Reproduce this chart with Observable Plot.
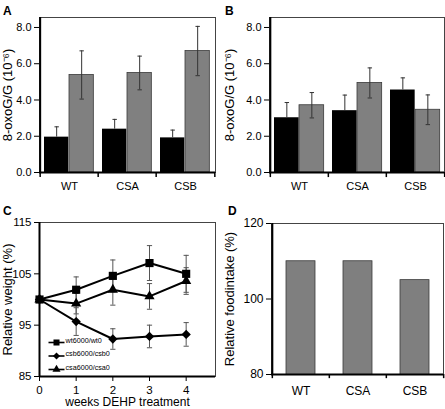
<!DOCTYPE html>
<html><head><meta charset="utf-8">
<script src="https://cdn.jsdelivr.net/npm/d3@7"></script>
<script src="https://cdn.jsdelivr.net/npm/@observablehq/plot@0.6"></script>
<style>
html,body{margin:0;padding:0;background:#fff;}
#fig{position:relative;width:445px;height:409px;overflow:hidden;font-family:"Liberation Sans",Arial,sans-serif;background:#fff;}
#fig .panel{position:absolute;}
.letter{position:absolute;font-weight:bold;font-size:12px;line-height:12px;color:#000;}
</style></head>
<body><div id="fig"></div>
<script>
// ---- data ----
const categories = ["WT", "CSA", "CSB"];
const aBlack = [1.95, 2.39, 1.91];
const aBlackErr = [0.57, 0.54, 0.43];
const aGrey = [5.38, 5.49, 6.70];
const aGreyErr = [1.33, 0.93, 1.36];
const bBlack = [3.02, 3.41, 4.55];
const bBlackErr = [0.84, 0.86, 0.67];
const bGrey = [3.71, 4.94, 3.46];
const bGreyErr = [0.70, 0.83, 0.82];
const oxoTicks = [0, 2, 4, 6, 8];
const oxoTitle = "8-oxoG/G (10⁻⁶)";

const weeks = [0, 1, 2, 3, 4];
const seriesNames = ["wt6000/wt0", "csb6000/csb0", "csa6000/csa0"];
const wtWeight = [100, 101.9, 104.6, 107.1, 105.0];
const wtErr = [0, 2.5, 3.1, 3.4, 3.6];
const csbWeight = [100, 95.7, 92.3, 92.8, 93.2];
const csbErr = [0, 2.7, 2.0, 2.2, 2.3];
const csaWeight = [100, 99.2, 101.9, 100.6, 103.6];
const csaErr = [0, 2.0, 3.0, 2.5, 2.6];
const weightTicks = [85, 95, 105, 115];
const weightTitle = "Relative weight (%)";
const weeksTitle = "weeks DEHP treatment";

const foodIntake = [110, 110, 105];
const foodTicks = [80, 100, 120];
const foodTitle = "Relative foodintake (%)";

// ---- helpers ----
const FONT = "'Liberation Sans', Arial, Helvetica, sans-serif";
function hline(hw) { return {draw(ctx) { ctx.moveTo(-hw, 0); ctx.lineTo(hw, 0); }}; }
const baseStyle = (fs) => ({fontFamily: FONT, fontSize: fs, color: "#000", background: "transparent", overflow: "visible"});
const yTitle = (t, marginLeft) => Plot.text([t], {text: d => d, frameAnchor: "left", textAnchor: "middle", rotate: -90, lineAnchor: "top", dx: 2 - marginLeft, fontSize: 13});

function oxoPanel(blackV, blackE, greyV, greyE, {width, marginLeft, marginRight}) {
  const frameW = width - marginLeft - marginRight;
  const step = frameW / categories.length;
  const blk = categories.map((c, i) => ({c, v: blackV[i], lo: blackV[i], hi: blackV[i] + blackE[i]}));
  const gry = categories.map((c, i) => ({c, v: greyV[i], lo: greyV[i] - greyE[i], hi: greyV[i] + greyE[i]}));
  const dxB = 16.5 - step / 2, dxG = 41.5 - step / 2;
  const cap = {symbol: hline(2.2), stroke: "#333", fill: "none", strokeWidth: 1};
  return Plot.plot({
    width, height: 200, marginLeft, marginRight, marginTop: 17, marginBottom: 28,
    style: baseStyle("11px"),
    x: {domain: categories, padding: 0, tickSize: 0, tickPadding: 10, label: null},
    y: {domain: [0, 8.55], ticks: oxoTicks, tickFormat: d => d.toFixed(1), tickSize: 5, tickPadding: 3, label: null},
    marks: [
      Plot.barY(blk, {x: "c", y: "v", fill: "#000", insetLeft: 4, insetRight: step - 29}),
      Plot.barY(gry, {x: "c", y: "v", fill: "#808080", stroke: "#3a3a3a", strokeWidth: 0.8, insetLeft: 29, insetRight: step - 54}),
      Plot.ruleX(blk, {x: "c", y1: "lo", y2: "hi", dx: dxB, stroke: "#333"}),
      Plot.dot(blk, {x: "c", y: "hi", dx: dxB, ...cap}),
      Plot.ruleX(gry, {x: "c", y1: "lo", y2: "hi", dx: dxG, stroke: "#333"}),
      Plot.dot(gry, {x: "c", y: "hi", dx: dxG, ...cap}),
      Plot.dot(gry, {x: "c", y: "lo", dx: dxG, ...cap}),
      Plot.frame({stroke: "#444"}),
      Plot.ruleY([0], {strokeWidth: 2}),
      Plot.ruleX([categories[0]], {x: d => d, dx: -step / 2, strokeWidth: 2}),
      Plot.ruleX(categories, {x: d => d, dx: -step / 2, y1: 0, y2: -0.28, strokeWidth: 1.5}),
      Plot.ruleX([categories[categories.length - 1]], {x: d => d, dx: step / 2, y1: 0, y2: -0.28, strokeWidth: 1.5}),
      yTitle(oxoTitle, marginLeft)
    ]
  });
}

function weightPanel() {
  const marginLeft = 39;
  const rows = (vals, errs) => weeks.map((w, i) => ({w, v: vals[i], e: errs[i], lo: vals[i] - errs[i], hi: vals[i] + errs[i]}));
  const wt = rows(wtWeight, wtErr), csb = rows(csbWeight, csbErr), csa = rows(csaWeight, csaErr);
  const withErr = [...csb, ...csa, ...wt].filter(d => d.e > 0);
  const cap = {symbol: hline(2.6), stroke: "#555", fill: "none", strokeWidth: 1};
  const legendSymbols = ["square", "diamond2", "triangle"];
  const legendR = [3.4, 3.2, 3.0];
  const legend = seriesNames.flatMap((name, i) => {
    const base = {frameAnchor: "bottom-left", dy: -34 + 13.5 * i};
    return [
      Plot.dot([name], {...base, dx: 17, symbol: hline(8), stroke: "#000", strokeWidth: 1.6, fill: "none"}),
      Plot.dot([name], {...base, dx: 17, symbol: legendSymbols[i], fill: "#000", r: legendR[i]}),
      Plot.text([name], {...base, dx: 26, text: d => d, textAnchor: "start", fontSize: 7.2})
    ];
  });
  return Plot.plot({
    width: 222, height: 209, marginLeft, marginRight: 7, marginTop: 22, marginBottom: 33,
    style: baseStyle("11.5px"),
    x: {domain: [0, 4.8], ticks: weeks, tickFormat: d => String(d), tickSize: 5, tickPadding: 4, label: null, fontSize: 11},
    y: {domain: [85, 115], ticks: weightTicks, tickFormat: d => String(d), tickSize: 5, tickPadding: 3, label: null},
    marks: [
      Plot.ruleX(withErr, {x: "w", y1: "lo", y2: "hi", stroke: "#555"}),
      Plot.dot(withErr, {x: "w", y: "lo", ...cap}),
      Plot.dot(withErr, {x: "w", y: "hi", ...cap}),
      Plot.line(csb, {x: "w", y: "v", stroke: "#000", strokeWidth: 2}),
      Plot.line(csa, {x: "w", y: "v", stroke: "#000", strokeWidth: 2}),
      Plot.line(wt, {x: "w", y: "v", stroke: "#000", strokeWidth: 2}),
      Plot.dot(csb, {x: "w", y: "v", symbol: "diamond2", fill: "#000", r: 4.2}),
      Plot.dot(csa, {x: "w", y: "v", symbol: "triangle", fill: "#000", r: 3.8}),
      Plot.dot(wt, {x: "w", y: "v", symbol: "square", fill: "#000", r: 4.6}),
      Plot.frame({stroke: "#444"}),
      Plot.ruleY([weightTicks[0]], {strokeWidth: 2}),
      Plot.ruleX([weeks[0]], {strokeWidth: 2}),
      ...legend,
      yTitle(weightTitle, marginLeft),
      Plot.text([weeksTitle], {text: d => d, frameAnchor: "bottom", textAnchor: "middle", dy: 29.5, fontSize: 12})
    ]
  });
}

function foodPanel() {
  const width = 223, marginLeft = 49, marginRight = 2;
  const step = (width - marginLeft - marginRight) / categories.length;
  const rows = categories.map((c, i) => ({c, v: foodIntake[i]}));
  const y0 = foodTicks[0];
  return Plot.plot({
    width, height: 209, marginLeft, marginRight, marginTop: 23, marginBottom: 35,
    style: baseStyle("12px"),
    x: {domain: categories, paddingInner: 0.5, paddingOuter: 0.25, tickSize: 0, tickPadding: 12, label: null},
    y: {domain: [80, 120], ticks: foodTicks, tickFormat: d => String(d), tickSize: 5, tickPadding: 3, label: null},
    marks: [
      Plot.barY(rows, {x: "c", y: "v", fill: "#7f7f7f", stroke: "#3a3a3a", strokeWidth: 0.8, clip: true}),
      Plot.frame({stroke: "#444"}),
      Plot.ruleY([y0], {strokeWidth: 2}),
      Plot.ruleX([categories[0]], {x: d => d, dx: -step / 2, strokeWidth: 2}),
      Plot.ruleX(categories, {x: d => d, dx: -step / 2, y1: y0, y2: y0 - 1.1, strokeWidth: 1.5}),
      Plot.ruleX([categories[categories.length - 1]], {x: d => d, dx: step / 2, y1: y0, y2: y0 - 1.1, strokeWidth: 1.5}),
      yTitle(foodTitle, marginLeft)
    ]
  });
}

// ---- layout ----
const fig = document.getElementById("fig");
function place(el, left, top) { el.classList.add("panel"); el.style.left = left + "px"; el.style.top = top + "px"; fig.appendChild(el); }
place(oxoPanel(aBlack, aBlackErr, aGrey, aGreyErr, {width: 222, marginLeft: 39, marginRight: 7}), 0, 0);
place(oxoPanel(bBlack, bBlackErr, bGrey, bGreyErr, {width: 223, marginLeft: 47, marginRight: 1}), 222, 0);
place(weightPanel(), 0, 200);
place(foodPanel(), 222, 200);
[["A", 3, 5], ["B", 225, 5], ["C", 3, 205], ["D", 228, 205]].forEach(([t, l, tp]) => {
  const d = document.createElement("div");
  d.className = "letter"; d.textContent = t; d.style.left = l + "px"; d.style.top = tp + "px";
  fig.appendChild(d);
});
</script>
</body></html>
